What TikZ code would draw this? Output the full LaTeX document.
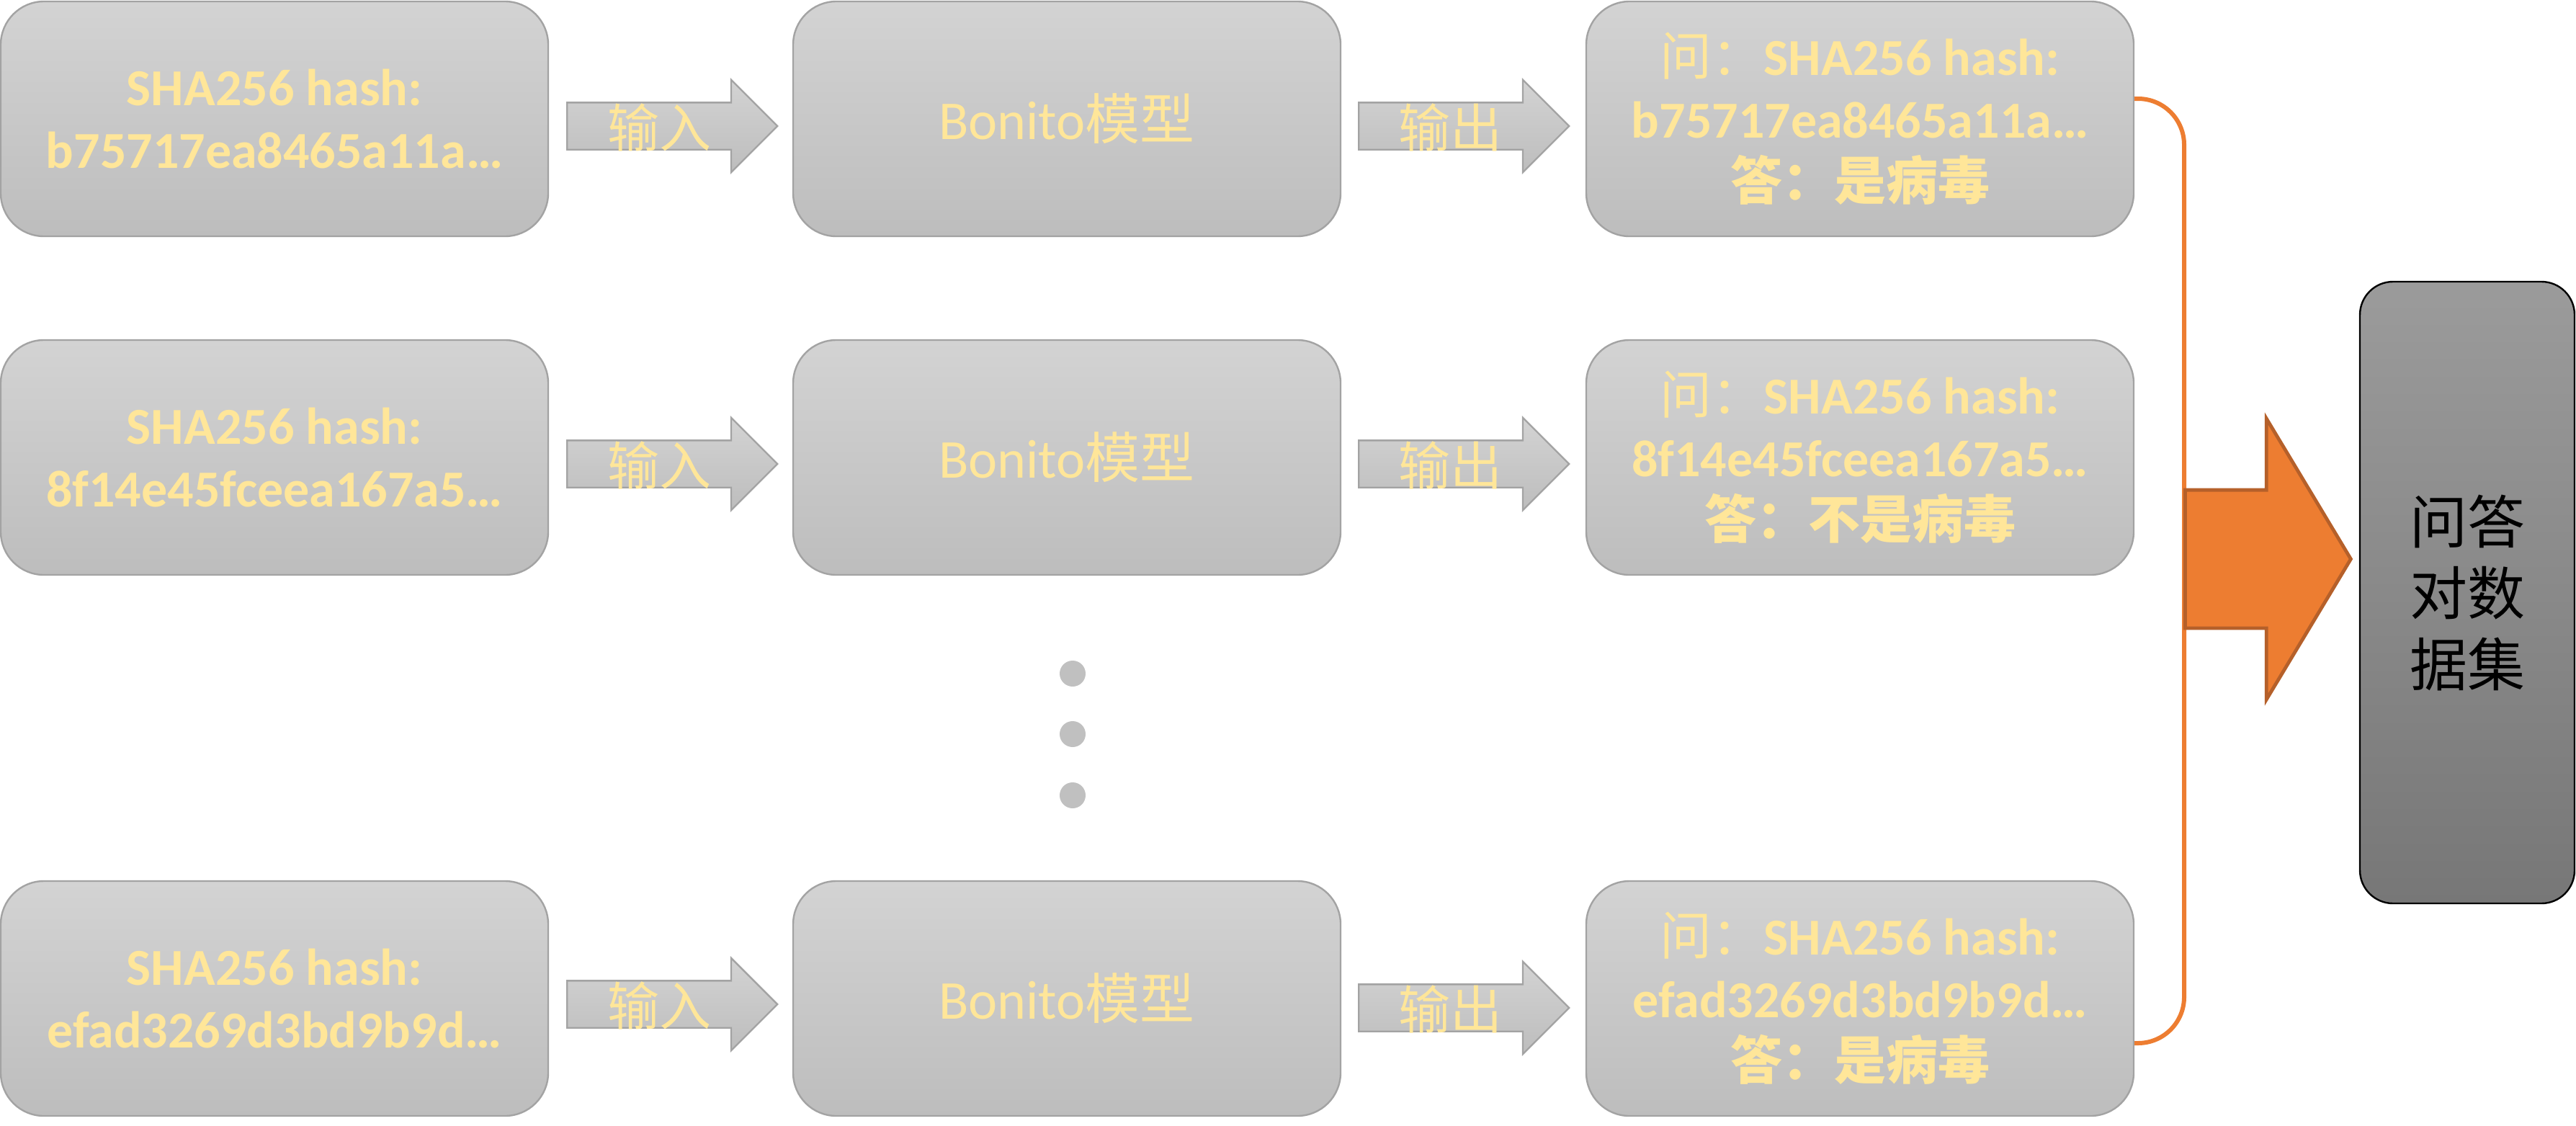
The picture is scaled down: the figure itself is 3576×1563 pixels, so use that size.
\documentclass[tikz,border=0pt]{standalone}
\usepackage{fontspec}
\setmainfont{Carlito}
\newfontfamily\cjk{Noto Sans CJK SC}
\usetikzlibrary{shapes.arrows}
\definecolor{txt}{HTML}{FFE699}
\definecolor{boxtop}{HTML}{D3D3D3}
\definecolor{boxbot}{HTML}{BDBDBD}
\definecolor{boxline}{HTML}{A3A3A3}
\definecolor{dstop}{HTML}{9B9B9B}
\definecolor{dsbot}{HTML}{777777}
\definecolor{orng}{HTML}{ED7D31}
\definecolor{orngline}{HTML}{B5602A}
\definecolor{dotc}{HTML}{C0C0C0}
\begin{document}
\begin{tikzpicture}[x=0.25pt,y=-0.25pt,
  box/.style={draw=boxline, line width=0.6pt, top color=boxtop, bottom color=boxbot,
    rounded corners=15pt, minimum width=190pt, minimum height=81.5pt, inner sep=0pt,
    align=center, text=txt},
  hashtxt/.style={font=\fontsize{18pt}{21.6pt}\selectfont\bfseries},
  modeltxt/.style={font=\fontsize{19pt}{22.8pt}\selectfont},
  grayarrow/.style={shape=single arrow, draw=boxline, line width=0.6pt,
    top color=boxtop, bottom color=boxbot, inner xsep=0pt, inner ysep=7.875pt,
    text height=0pt, text depth=0pt, single arrow head extend=7.875pt,
    single arrow head indent=0pt, single arrow tip angle=90, minimum height=73pt},
  lbl/.style={text=txt, font=\fontsize{18pt}{21.6pt}\selectfont\cjk, inner sep=0pt},
  bigarrow/.style={shape=single arrow, draw=orngline, line width=1.2pt, fill=orng,
    inner xsep=0pt, inner ysep=23.375pt, text height=0pt, text depth=0pt,
    single arrow head extend=24.75pt, single arrow head indent=0pt,
    single arrow tip angle=118, minimum height=57.5pt},
  orangeline/.style={draw=orng, line width=1.5pt},
  dsbox/.style={draw=black, line width=0.6pt, top color=dstop, bottom color=dsbot,
    rounded corners=11.5pt, minimum width=74.5pt, minimum height=215.75pt,
    inner sep=0pt, align=center, text=black,
    font=\fontsize{20pt}{24.75pt}\selectfont\cjk},
  dot/.style={circle, fill=dotc, minimum size=9pt, inner sep=0pt}
]
\useasboundingbox (0,0) rectangle (3576,1563);

% column 1: hashes
\node[box, hashtxt] (a1) at (381,165) {SHA256 hash:\\b75717ea8465a11a…};
\node[box, hashtxt] (a2) at (381,635) {SHA256 hash:\\8f14e45fceea167a5…};
\node[box, hashtxt] (a3) at (381,1386) {SHA256 hash:\\efad3269d3bd9b9d…};

% column 2: model
\node[box, modeltxt] (b1) at (1481,165) {Bonito{\cjk 模型}};
\node[box, modeltxt] (b2) at (1481,635) {Bonito{\cjk 模型}};
\node[box, modeltxt] (b3) at (1481,1386) {Bonito{\cjk 模型}};

% column 3: QA pairs
\node[box, hashtxt] (c1) at (2582,165) {{\cjk\mdseries 问：}SHA256 hash:\\b75717ea8465a11a…\\{\cjk 答：是病毒}};
\node[box, hashtxt] (c2) at (2582,635) {{\cjk\mdseries 问：}SHA256 hash:\\8f14e45fceea167a5…\\{\cjk 答：不是病毒}};
\node[box, hashtxt] (c3) at (2582,1386) {{\cjk\mdseries 问：}SHA256 hash:\\efad3269d3bd9b9d…\\{\cjk 答：是病毒}};

% input arrows
\node[grayarrow, anchor=tail] (i1) at (786,175) {};
\node[grayarrow, anchor=tail] (i2) at (786,644) {};
\node[grayarrow, anchor=tail] (i3) at (786,1394) {};
\node[lbl] (li1) at (915,177) {输入};
\node[lbl] (li2) at (915,646) {输入};
\node[lbl] (li3) at (915,1396) {输入};

% output arrows
\node[grayarrow, anchor=tail] (o1) at (1885,175) {};
\node[grayarrow, anchor=tail] (o2) at (1885,644) {};
\node[grayarrow, anchor=tail] (o3) at (1885,1399) {};
\node[lbl] (lo1) at (2013,177) {输出};
\node[lbl] (lo2) at (2013,646) {输出};
\node[lbl] (lo3) at (2013,1401) {输出};

% ellipsis dots
\node[dot] (d1) at (1489,935) {};
\node[dot] (d2) at (1489,1019) {};
\node[dot] (d3) at (1489,1104) {};

% collecting bracket line
\coordinate (bus) at (3032,800);
\draw[orangeline, rounded corners=16pt] ([yshift=7pt]c1.east) -| (bus) |- ([yshift=-15.5pt]c3.east);

% big arrow and dataset box
\node[bigarrow, anchor=tail] (big) at (3031,776) {};
\node[dsbox] (ds) at (3425,822.5) {问答\\对数\\据集};
\end{tikzpicture}
\end{document}
